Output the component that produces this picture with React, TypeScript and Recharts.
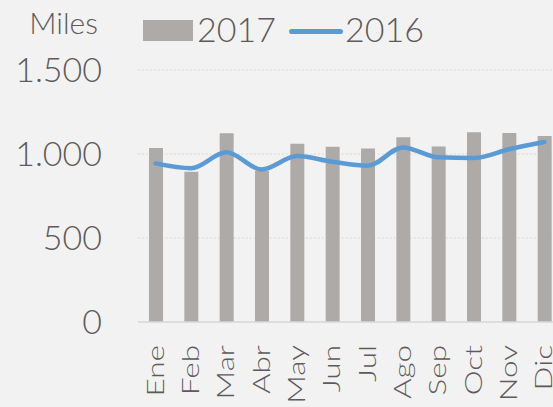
import { ComposedChart, Bar, Line, XAxis, YAxis, CartesianGrid } from "recharts";

const months = ["Ene", "Feb", "Mar", "Abr", "May", "Jun", "Jul", "Ago", "Sep", "Oct", "Nov", "Dic"];
const sales2017 = [1035, 894, 1123, 900, 1061, 1043, 1033, 1099, 1045, 1130, 1125, 1107];
const sales2016 = [944, 915, 1010, 908, 988, 954, 930, 1039, 980, 976, 1028, 1071];
const yTicks = [0, 500, 1000, 1500];

const data = months.map((m, i) => ({ name: m, y2017: sales2017[i], y2016: sales2016[i] }));

const FONT = "Lato, 'Open Sans', sans-serif";
const TEXT = "#5E5A5A";
const BAR = "#AEAAA8";
const LINE = "#5B9BD5";

const fmt = (v: number) => v.toString().replace(/\B(?=(\d{3})+(?!\d))/g, ".");

function MonthTick({ x, y, payload }: any) {
  return (
    <text
      transform={`translate(${x},${y}) rotate(-90) scale(1.4,1)`}
      textAnchor="end"
      dy="0.36em"
      fontSize={22.5}
      fontFamily={FONT}
      fontWeight={300}
      fill={TEXT}
    >
      {payload.value}
    </text>
  );
}

export default function App() {
  return (
    <div
      style={{
        position: "absolute",
        left: 0,
        top: 0,
        width: 553,
        height: 407,
        overflow: "hidden",
        background: "#F2F2F2",
        fontFamily: FONT,
        fontWeight: 300,
        color: TEXT,
      }}
    >
      <ComposedChart
        width={570}
        height={407}
        data={data}
        margin={{ top: 70, right: 8, left: 0, bottom: 0 }}
      >
        <CartesianGrid vertical={false} stroke="#D0D0D0" strokeDasharray="1.5 2.5" />
        <XAxis
          dataKey="name"
          interval={0}
          height={85}
          tickLine={false}
          tickSize={0}
          tickMargin={23}
          axisLine={{ stroke: "#D9D9D9", strokeWidth: 1.5 }}
          tick={<MonthTick />}
        />
        <YAxis
          width={138}
          domain={[0, 1500]}
          ticks={yTicks}
          tickFormatter={fmt}
          axisLine={false}
          tickLine={false}
          tickSize={0}
          tickMargin={36}
          tick={{ fontSize: 34, fill: TEXT, fontFamily: FONT, fontWeight: 300 }}
        />
        <Bar dataKey="y2017" fill={BAR} barSize={14} isAnimationActive={false} />
        <Line
          dataKey="y2016"
          type="monotone"
          stroke={LINE}
          strokeWidth={4.5}
          strokeLinecap="round"
          dot={false}
          isAnimationActive={false}
        />
      </ComposedChart>
      <div style={{ position: "absolute", right: 553 - 98, top: 5, fontSize: 30, lineHeight: "34px" }}>
        Miles
      </div>
      <div style={{ position: "absolute", left: 143, top: 20, width: 50, height: 21, background: BAR }} />
      <div style={{ position: "absolute", left: 197, top: 9, fontSize: 34, lineHeight: "40px" }}>2017</div>
      <div
        style={{
          position: "absolute",
          left: 289,
          top: 29,
          width: 54,
          height: 4.5,
          borderRadius: 3,
          background: LINE,
        }}
      />
      <div style={{ position: "absolute", left: 345, top: 9, fontSize: 34, lineHeight: "40px" }}>2016</div>
    </div>
  );
}
